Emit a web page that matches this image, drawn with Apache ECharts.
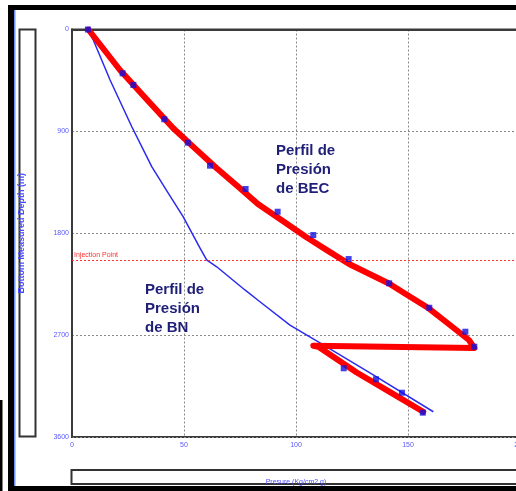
<!DOCTYPE html>
<html>
<head>
<meta charset="utf-8">
<script src="https://cdn.jsdelivr.net/npm/echarts@6/dist/echarts.min.js"></script>
<style>
html,body{margin:0;padding:0;background:#fff;}
#c{width:516px;height:491px;}
</style>
</head>
<body>
<div id="c"></div>
<script>
// Pressure (Kg/cm2 g) vs Bottom Measured Depth (m)
var bnPressure = [7.1, 9.5, 17.0, 26.7, 35.6, 42.4, 49.6, 57.1, 60.1, 64.6, 77.2, 83.9, 97.3, 112.2, 134.5, 161.3];
var bnDepth    = [0, 93, 446, 859, 1212, 1427, 1654, 1930, 2036, 2096, 2301, 2405, 2611, 2787, 3052, 3377];

var becPressure = [7.3, 21.4, 33.0, 45.2, 54.9, 64.6, 73.7, 83.0, 93.8, 104.5, 114.3, 123.7, 132.6, 141.5, 150.4, 159.4, 168.3, 177.2, 179.6,
                   107.7, 110.0, 127.1, 142.0, 156.8];
var becDepth    = [0, 358, 610, 873, 1050, 1226, 1381, 1542, 1688, 1833, 1956, 2072, 2158, 2244, 2354, 2465, 2604, 2743, 2814,
                   2794, 2802, 3030, 3203, 3377];

var measPressure = [7.1, 22.6, 27.4, 41.2, 51.7, 61.6, 77.5, 91.8, 107.7, 123.5, 141.6, 159.5, 175.6, 179.6, 121.3, 135.7, 147.3, 156.6];
var measDepth    = [0, 387, 490, 793, 1000, 1203, 1409, 1610, 1816, 2028, 2242, 2458, 2670, 2802, 2993, 3090, 3209, 3385];

var injectionDepth = 2036;
var xTicks = [0, 50, 100, 150, 200];
var yTicks = [0, 900, 1800, 2700, 3600];

function pairs(a, b) { return a.map(function (v, i) { return [v, b[i]]; }); }

var chart = echarts.init(document.getElementById('c'), null, {renderer: 'canvas'});
var tickColor = '#5858ff';
var gridDash = {color: '#8a8a8a', width: 1, type: [2, 2]};

chart.setOption({
  animation: false,
  backgroundColor: '#ffffff',
  grid: {left: 72, top: 29.5, width: 448, height: 407.5, containLabel: false, outerBoundsMode: 'none',
         show: true, borderColor: '#3a3a3a', borderWidth: 2, backgroundColor: 'transparent'},
  xAxis: {
    type: 'value', min: xTicks[0], max: xTicks[xTicks.length - 1], interval: 50,
    name: 'Presure (Kg/cm2 g)', nameLocation: 'middle', nameGap: 42,
    nameTextStyle: {color: '#4a4aff', fontSize: 7, fontFamily: 'Liberation Sans'},
    axisLine: {show: true, lineStyle: {color: '#3a3a3a', width: 2}},
    axisTick: {show: false},
    axisLabel: {color: tickColor, fontSize: 7, margin: 5, fontFamily: 'Liberation Sans',
                formatter: function (v) { return String(v); }},
    splitLine: {show: true, lineStyle: gridDash}
  },
  yAxis: {
    type: 'value', inverse: true, min: yTicks[0], max: yTicks[yTicks.length - 1], interval: 900,
    name: 'Bottom Measured Depth (m)', nameLocation: 'middle', nameGap: 46, nameRotate: 90,
    nameTextStyle: {color: '#4a4aff', fontSize: 9, fontWeight: 'bold', fontFamily: 'Liberation Sans'},
    axisLine: {show: true, lineStyle: {color: '#3a3a3a', width: 2}},
    axisTick: {show: false},
    axisLabel: {color: tickColor, fontSize: 7, margin: 3, fontFamily: 'Liberation Sans',
                formatter: function (v) { return String(v); }},
    splitLine: {show: true, lineStyle: gridDash}
  },
  series: [
    {
      name: 'BN', type: 'line', data: pairs(bnPressure, bnDepth), showSymbol: false, z: 2,
      lineStyle: {color: '#2b2bef', width: 1.5, join: 'round'},
      markLine: {
        silent: true, symbol: 'none',
        lineStyle: {color: '#ff3030', width: 1, type: [2, 2]},
        label: {show: true, position: 'insideStartTop', formatter: 'Injection Point',
                color: '#ff3030', fontSize: 7, fontFamily: 'Liberation Sans', distance: [2, 1]},
        data: [{yAxis: injectionDepth}]
      }
    },
    {
      name: 'BEC', type: 'line', data: pairs(becPressure, becDepth), showSymbol: false, z: 3,
      lineStyle: {color: '#ff0000', width: 6, join: 'round', cap: 'round'}
    },
    {
      name: 'Medido', type: 'scatter', data: pairs(measPressure, measDepth), z: 4,
      symbol: 'rect', symbolSize: 6, itemStyle: {color: '#1010e0'}
    }
  ],
  graphic: [
    // outer frame
    {type: 'rect', shape: {x: 8, y: 5, width: 508, height: 5}, style: {fill: '#000'}},
    {type: 'rect', shape: {x: 8, y: 5, width: 6, height: 486}, style: {fill: '#000'}},
    {type: 'rect', shape: {x: 14, y: 10, width: 1.5, height: 476}, style: {fill: '#6f8ff5'}},
    {type: 'rect', shape: {x: 8, y: 486, width: 508, height: 5}, style: {fill: '#000'}},
    {type: 'rect', shape: {x: 0, y: 400, width: 2.5, height: 91}, style: {fill: '#000'}},
    // axis title boxes
    {type: 'rect', z: -1, shape: {x: 19.5, y: 29.5, width: 16, height: 407}, style: {fill: 'none', stroke: '#333', lineWidth: 2}},
    {type: 'rect', z: -1, shape: {x: 71.5, y: 470, width: 460, height: 14}, style: {fill: 'none', stroke: '#333', lineWidth: 2}},
    // annotations
    {type: 'text', left: 276, top: 141, z: 10, style: {text: 'Perfil de\nPresión\nde BEC', fill: '#1f1f78',
      font: 'bold 15px "Liberation Sans", Arial, sans-serif', lineHeight: 19}},
    {type: 'text', left: 145, top: 280, z: 10, style: {text: 'Perfil de\nPresión\nde BN', fill: '#1f1f78',
      font: 'bold 15px "Liberation Sans", Arial, sans-serif', lineHeight: 19}}
  ]
});
</script>
</body>
</html>
